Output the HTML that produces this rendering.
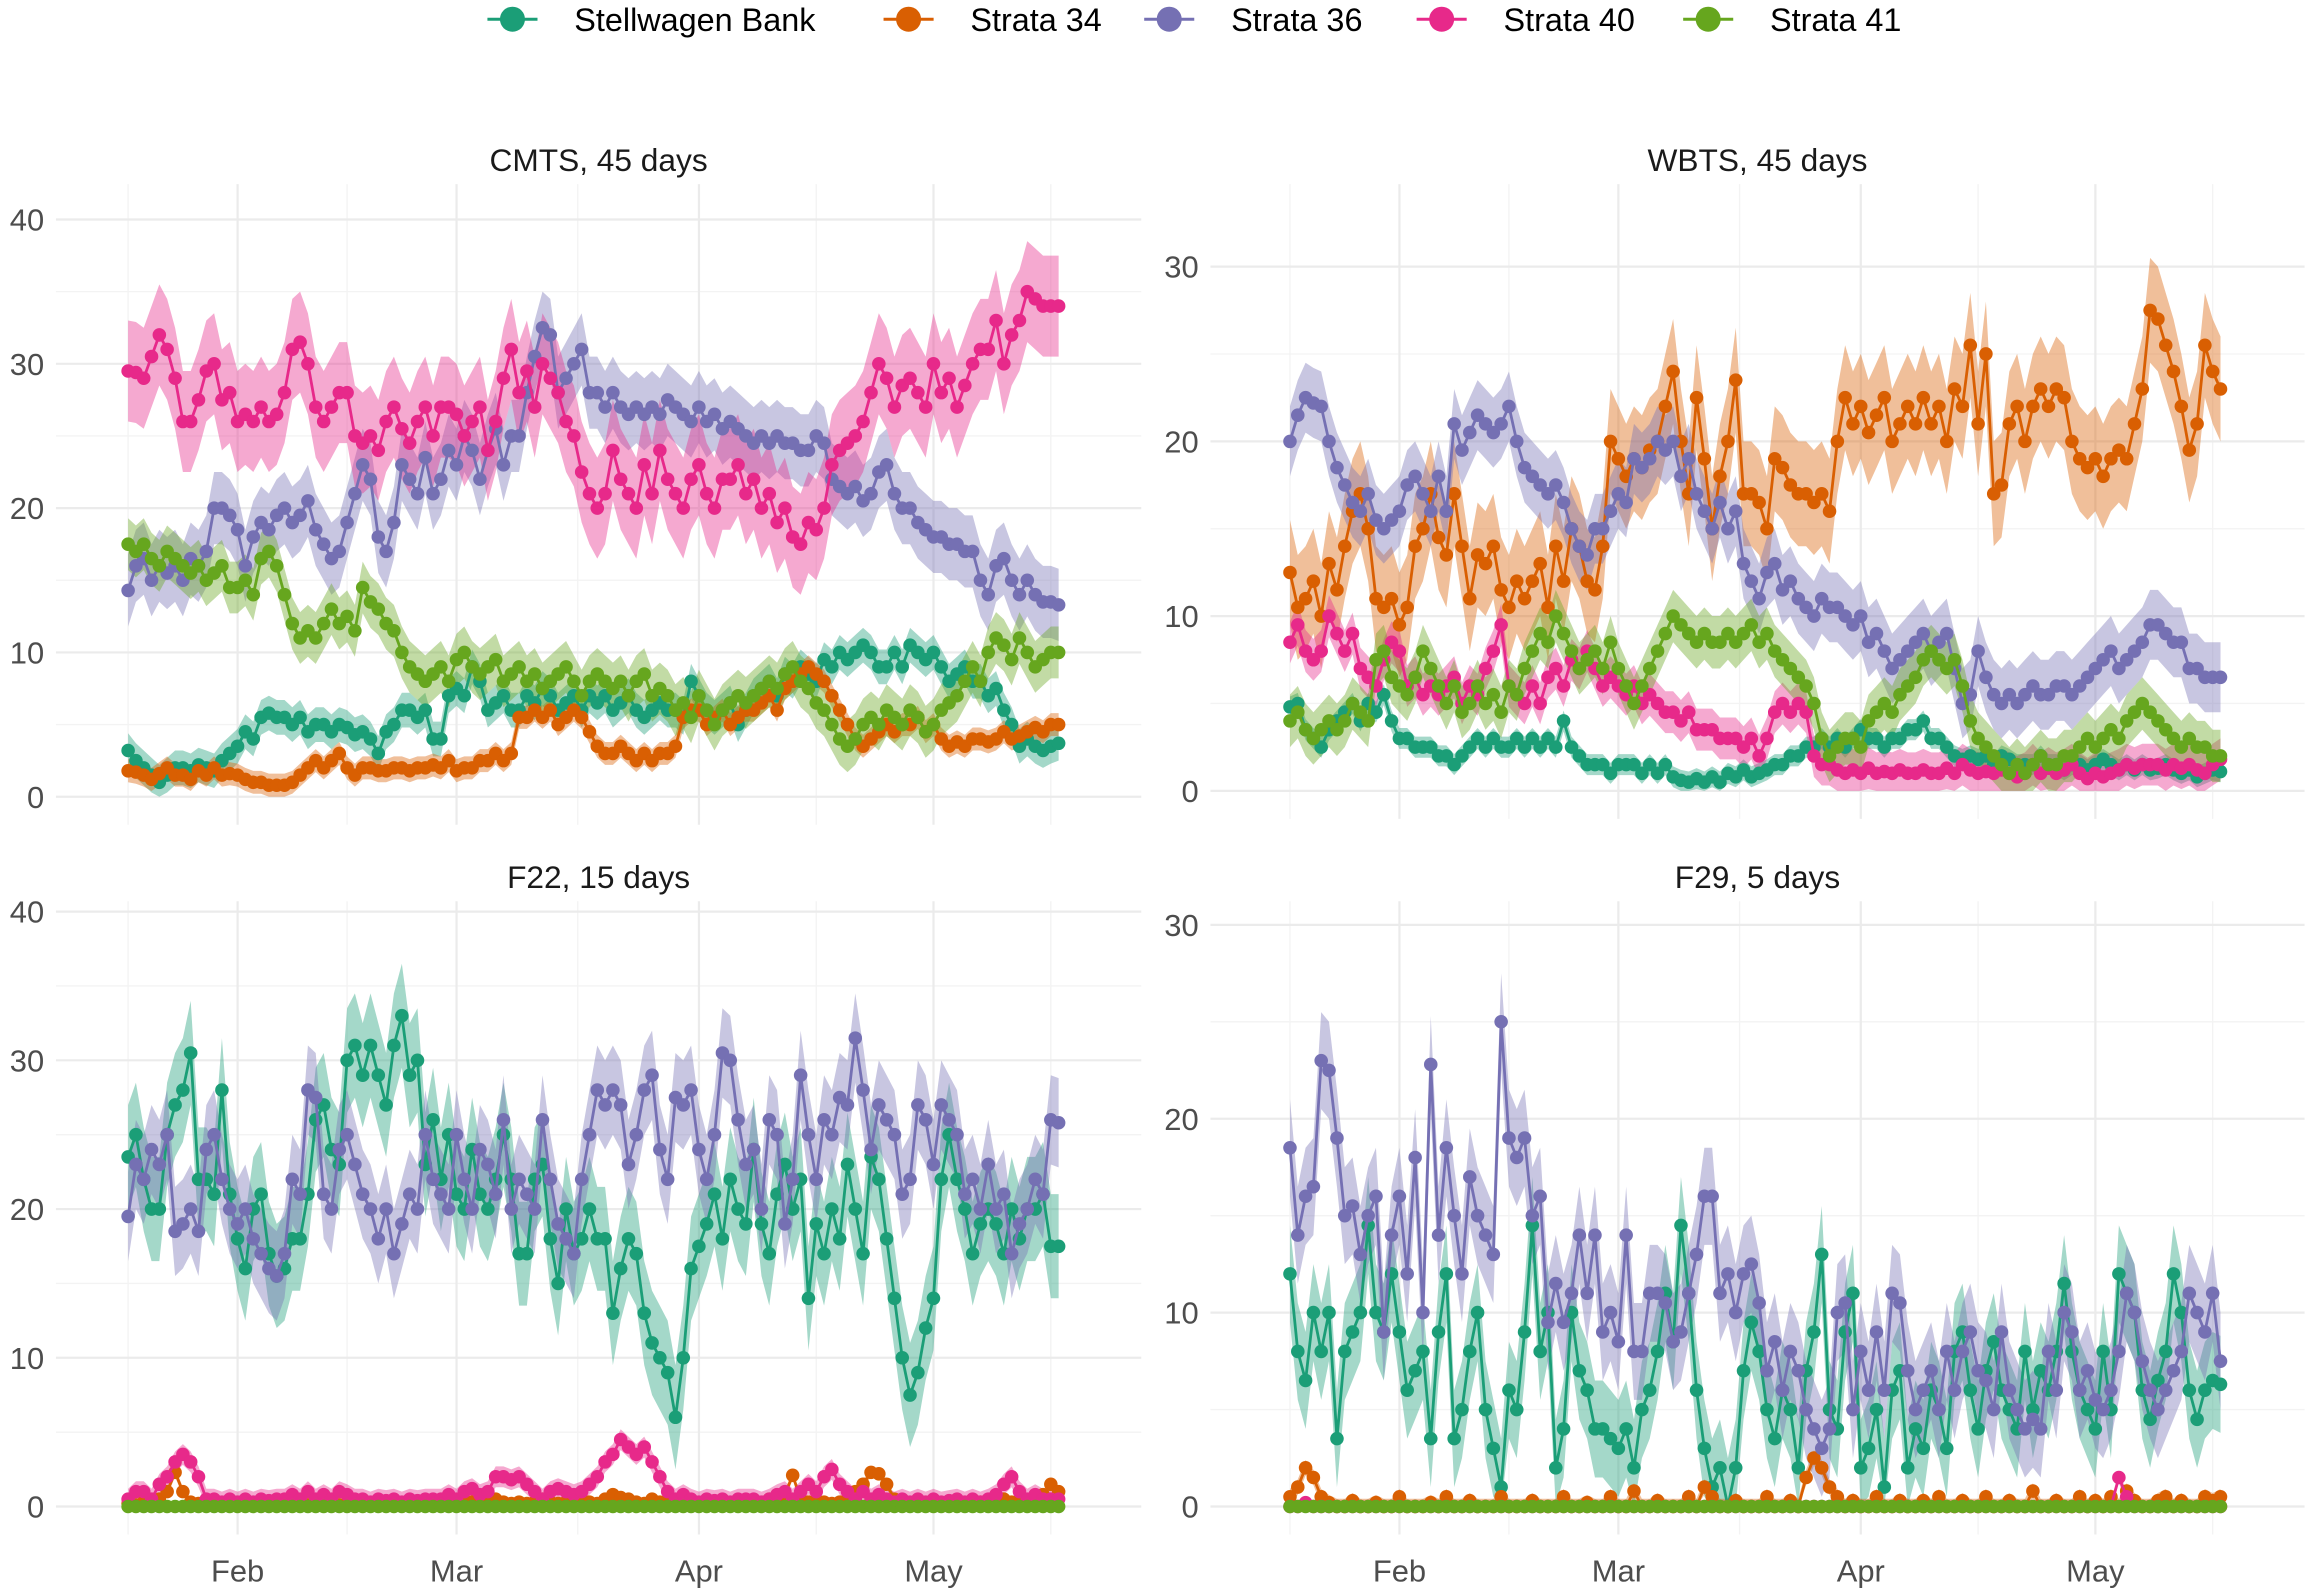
<!DOCTYPE html>
<html><head><meta charset="utf-8"><style>
html,body{margin:0;padding:0;background:#fff;}
svg{display:block;font-family:"Liberation Sans",Arial,sans-serif;}
</style></head><body>
<svg id="chart" width="2309" height="1592" viewBox="0 0 1568 1081" xmlns="http://www.w3.org/2000/svg">
<g id="legend"></g>
<g id="panels"></g>
</svg>
<script>
const seriesNames = ["Stellwagen Bank","Strata 34","Strata 36","Strata 40","Strata 41"];
const seriesColors = ["#1B9E77","#D95F02","#7570B3","#E7298A","#66A61E"];
const monthLabels = ["Feb","Mar","Apr","May"];
const monthDays = [14,42,73,103];

// CMTS
const cmtsTeal=[3.2,2.5,2,1.5,1,1.5,2,2,1.8,2.2, 2,1.8,2.5,3,3.5,4.5,4,5.5,5.8,5.5, 5.5,5,5.5,4.5,5,5,4.5,5,4.8,4.3, 4.5,4,3,4.5,5,6,6,5.5,6,4, 4,7,7.5,7,9,8,6,6.5,7,6, 6,7,6.5,7.5,7,6,6.5,7,6,7, 6.5,7,6,6.5,7,6,5.5,6,6.5,6, 6,5.5,8,7,6,5.5,6,6.5,5,6, 7,7.5,8,7,8.5,8,9,8.5,8,9.5, 9,10,9.5,10,10.5,10,9,9,10,9, 10.5,10,9.5,10,9,8,8.5,9,8,8, 7,7.5,6,5,3.5,4,3.5,3.2,3.5,3.7];
const cmtsS34=[1.8,1.7,1.5,1.2,1.6,2,1.5,1.5,1.2,1.8, 1.5,2,1.5,1.6,1.5,1.2,1,1,0.8,0.8, 0.8,1,1.5,2,2.5,2,2.5,3,2,1.5, 2,2,1.8,1.8,2,2,1.8,2,2,2.2, 2,2.5,1.8,2,2,2.5,2.5,3,2.5,3, 5.5,5.5,6,5.5,6,5,5.5,6,5.5,4.5, 3.5,3,3,3.5,3,2.5,3,2.5,3,3, 3.5,5.5,6,6,5,5.5,6,5,5.5,6, 6,6.5,7,6,7.5,8,8.5,9,8.5,8, 7,6,5,4,3.5,4,4.5,5,4.5,5, 5,5.5,4.5,5,4,3.5,3.8,3.5,4,4, 3.8,4,4.5,4,4.2,4.5,4.8,4.5,5,5];
const cmtsS36=[14.3,16,16.5,15,16,15.5,16,15,16.5,16, 17,20,20,19.5,18.5,16,18,19,18.5,19.5, 20,19,19.5,20.5,18.5,17.5,16.5,17,19,21, 23,22,18,17,19,23,22,21,23.5,21, 22,24,23,25,24,22,24,25.5,23,25, 25,28,30.5,32.5,32,28,29,30,31,28, 28,27,28,27,26.5,27,26.5,27,26.5,27.5, 27,26.5,26,27,26,26.5,25.5,26,25.5,25, 24.5,25,24.5,25,24.5,24.5,24,24,25,24.5, 22,21.5,21,21.5,20.5,21,22.5,23,21,20, 20,19,18.5,18,18,17.5,17.5,17,17,15, 14,16,16.5,15,14,15,14,13.5,13.5,13.3];
const cmtsS40=[29.5,29.4,29,30.5,32,31,29,26,26,27.5, 29.5,30,27.5,28,26,26.5,26,27,26,26.5, 28,31,31.5,30,27,26,27,28,28,25, 24.5,25,24,26,27,25.5,24.5,26,27,25, 27,27,26.5,25,26,27,24,26,29,31, 28,29.5,27,30,29,28,26,25,22.5,21, 20,21,24,22,21,20,23,21,24,22, 21,20,22,23,21,20,22,22,23,21, 22,20,21,19,20,18,17.5,19,18.5,20, 23,24,24.5,25,26,28,30,29,27,28.5, 29,28,27,30,28,29,27,28.5,30,31, 31,33,30,32,33,35,34.5,34,34,34];
const cmtsS41=[17.5,17,17.5,16.5,16,17,16.5,16,15.5,16, 15,15.5,16,14.5,14.5,15,14,16.5,17,16, 14,12,11,11.5,11,12,13,12,12.5,11.5, 14.5,13.5,13,12,11.5,10,9,8.5,8,8.5, 9,8,9.5,10,9,8.5,9,9.5,8,8.5, 9,8,8.5,7.5,8,8.5,9,8,7,8, 8.5,8,7.5,8,7,8,8.5,7,7.5,7, 6,6.5,5.5,7,6,5,6,6.5,7,6.5, 7,7.5,8,7.5,8.5,9,8,7.5,6.5,6, 5,4,3.5,4,5,5.5,5,6,5.5,5, 6,5.5,4.5,5,6,6.5,7,8,9,8, 10,11,10.5,9.5,11,10,9,9.5,10,10];

// WBTS
const wbtsTeal=[4.8,5,3.5,3,2.5,3.5,4,4.5,5,4, 5,4.5,5.5,4,3,3,2.5,2.5,2.5,2, 2,1.5,2,2.5,3,2.5,3,2.5,2.5,3, 2.5,3,2.5,3,2.5,4,2.5,2,1.5,1.5, 1.5,1,1.5,1.5,1.5,1,1.5,1,1.5,0.8, 0.6,0.5,0.7,0.5,0.8,0.5,1,0.8,1.2,0.8, 1,1.2,1.5,1.5,2,2,2.5,2.5,3,2.5, 3,2.5,3,3.5,3,3,2.5,3,3,3.5, 3.5,4,3,3,2.5,2,1.8,2,1.8,2, 1.5,2,1.8,1.5,1.5,1.5,2,1.5,1.5,1.2, 1.5,1.5,1.2,1.5,1.8,1.5,1.2,1.5,1.2,1.5, 1.2,1.3,1.5,1.2,1,1.2,0.8,1,1.2,1.1];
const wbtsS34=[12.5,10.5,11,12,10,13,11.5,14,16,17, 15,11,10.5,11,9.5,10.5,14,15,17,14.5, 13.5,17,14,11,13.5,13,14,11.5,10.5,12, 11,12,13,10.5,14,12,15,14,12,11.5, 14,20,19,18,19,18.5,19.5,20,22,24, 20,17,22.5,19,15,18,20,23.5,17,17, 16.5,15,19,18.5,17.5,17,17,16.5,17,16, 20,22.5,21,22,20.5,21.5,22.5,20,21,22, 21,22.5,21,22,20,23,22,25.5,21,25, 17,17.5,21,22,20,22,23,22,23,22.5, 20,19,18.5,19,18,19,19.5,19,21,23, 27.5,27,25.5,24,22,19.5,21,25.5,24,23];
const wbtsS36=[20,21.5,22.5,22.2,22,20,18.5,17.5,16.5,16, 17,15.5,15,15.5,16,17.5,18,17,16,18, 16,21,19.5,20.5,21.5,21,20.5,21,22,20, 18.5,18,17.5,17,17.5,16.5,15,14,13.5,15, 15,16,17,16.5,19,18.5,19,20,19.5,20, 18,19,17,16,15,16.5,15,16,13,12, 11,12.5,13,11.5,12,11,10.5,10,11,10.5, 10.5,10,9.5,10,8.5,9,8,7,7.5,8, 8.5,9,8,8.5,9,7,5,5.5,8,6.5, 5.5,5,5.5,5,5.5,6,5.5,5.5,6,6, 5.5,6,6.5,7,7.5,8,7,7.5,8,8.5, 9.5,9.5,9,8.5,8.5,7,7,6.5,6.5,6.5];
const wbtsS40=[8.5,9.5,8,7.5,8,10,9,8,9,7, 6.5,6,7.5,8.5,8,6,6.5,5.5,6,5.5, 6,6.5,5,6,5.5,7,8,9.5,6,5.5, 5,6,5,6.5,7,6,7.5,7,8,7, 6,6.5,6,5.5,6,5,5.5,5,4.5,4.5, 4,4.5,3.5,3.5,3.5,3,3,3,2.5,3, 2,3,4.5,5,4.5,5,4.5,2,1.5,1.5, 1.2,1,1.2,1,1.3,1,1.1,1,1.2,1, 1,1.2,1,1,1.3,1,1.5,1.2,1,1.1, 1,1.2,1,0.8,1,1.5,1,1.3,1,1.2, 1.5,1,0.7,1,0.8,1,1.2,1.5,1.3,1.5, 1.5,1.5,1.2,1.5,1.3,1.5,1.2,1,1.5,1.8];
const wbtsS41=[4,4.5,3.5,3,3.5,4,3.5,4,5,4.5, 4,7.5,8,6.5,6,5.5,6.5,8,7,6, 5,6,4.5,5,6,5,5.5,4.5,6,5.5, 7,8,9,8.5,10,9,8,7,7.5,8, 7,8.5,7,6,5,6,7,8,9,10, 9.5,9,8.5,9,8.5,8.5,9,8.5,9,9.5, 8.5,9,8,7.5,7,6.5,6,5,3,2, 2.5,3,3,2.5,4,4.5,5,4.5,5.5,6, 6.5,7.5,8,7.5,7,7.5,6,4,3,2.5, 2,1.5,1,1.5,1,1.5,2,1.5,1.5,2, 2,2.5,3,2.5,3,3.5,3,4,4.5,5, 4.5,4,3.5,3,2.5,3,2.5,2.5,2,2];

// F22
const f22Teal=[23.5,25,22,20,20,25,27,28,30.5,22, 22,21,28,21,18,16,20,21,17,15.5, 16,18,18,21,26,27,24,23,30,31, 29,31,29,27,31,33,29,30,23,26, 22,25,21,20,24,21,20,22,25,22, 17,17,22,23,18,15,20,17,18,20, 18,18,13,16,18,17,13,11,10,9, 6,10,16,17.5,19,21,18,22,20,19, 24,19,17,21,23,20,22,14,19,17, 20,18,23,20,17,23.5,22,18,14,10, 7.5,9,12,14,22,25,22,20,17,19, 20,19,17,20,18,20,20,21,17.5,17.5];
const f22S34=[0.2,0.1,0.3,0.2,0.5,1,2.3,1,0.3,0.2, 0.1,0.2,0.1,0.2,0.1,0.1,0.2,0.1,0.2,0.1, 0.2,0.3,0.2,0.1,0.2,0.3,0.2,0.1,0.2,0.3, 0.2,0.1,0.2,0.1,0.2,0.1,0.2,0.1,0.2,0.1, 0.2,0.3,0.2,0.4,0.3,0.2,0.3,0.5,0.3,0.2, 0.3,0.2,0.3,0.5,0.3,0.2,0.3,0.2,0.5,0.3, 0.2,0.5,0.8,0.6,0.5,0.3,0.2,0.5,0.3,0.2, 0.3,0.2,0.3,0.2,0.1,0.2,0.3,0.2,0.1,0.2, 0.3,0.2,0.5,0.3,0.8,2.1,0.5,0.3,0.2,0.3, 0.2,0.3,0.5,1,1.5,2.3,2.2,1.5,0.5,0.3, 0.2,0.3,0.2,0.1,0.2,0.3,0.2,0.1,0.2,0.3, 0.2,0.3,0.5,0.3,0.2,0.3,0.5,0.8,1.5,1];
const f22S36=[19.5,23,22,24,23,25,18.5,19,20,18.5, 24,25,22,20,19,20,18,17,16,15.5, 17,22,21,28,27.5,21,20,24,25,23, 21,20,18,20,17,19,21,20,25,22, 21,20,25,22,20,24,23,21,26,20, 22,21,20,26,22,19,18,17,22,25, 28,27,28,27,23,25,28,29,24,22, 27.5,27,28,24,22,25,30.5,30,26,23, 24,20,26,25,19,22,29,25,22,26, 25,27.5,27,31.5,28,24,27,26,25,21, 22,27,26,23,27,26,25,21,22,20, 23,20,21,17,19,20,22,21,26,25.8];
const f22S40=[0.5,1,1,0.5,1.5,2,3,3.5,3,2, 0.5,0.5,0.3,0.5,0.3,0.5,0.3,0.5,0.4,0.5, 0.5,0.8,0.5,1,0.5,0.8,0.5,1,0.8,0.5, 0.5,0.3,0.5,0.4,0.5,0.3,0.5,0.4,0.5,0.5, 0.5,0.8,0.5,1,1.2,0.8,1,2,2,1.8, 2,1.5,1,0.5,1,1.2,1,0.8,1,1.5, 2,3,3.5,4.5,4,3.5,4,3,2,1, 0.5,0.8,0.5,0.3,0.5,0.4,0.5,0.3,0.5,0.5, 0.5,0.3,0.5,0.8,1,0.5,1,1.5,1,2, 2.5,1.5,1,0.5,1,0.5,0.8,0.5,0.3,0.5, 0.3,0.5,0.3,0.5,0.3,0.4,0.5,0.3,0.5,0.3, 0.5,0.8,1.5,2,1,0.5,0.8,0.5,0.5,0.5];
const f22S41=[0,0,0,0,0,0,0,0,0,0, 0,0,0,0,0,0,0,0,0,0, 0,0,0,0,0,0,0,0,0,0, 0,0,0,0,0,0,0,0,0,0, 0,0,0,0,0,0,0,0,0,0, 0,0,0,0,0,0,0,0,0,0, 0,0,0,0,0,0,0,0,0,0, 0,0,0,0,0,0,0,0,0,0, 0,0,0,0,0,0,0,0,0,0, 0,0,0,0,0,0,0,0,0,0, 0,0,0,0,0,0,0,0,0,0, 0,0,0,0,0,0,0,0,0,0];

// F29
const f29Teal=[12,8,6.5,10,8,10,3.5,8,9,10, 14.5,10,9,12,9,6,7,8,3.5,9, 12,3.5,5,8,10,5,3,1,6,5, 9,14.5,8,10,2,4,10,7,6,4, 4,3.5,3,4,2,5,6,8,11,8.5, 14.5,11,6,3,1,2,0,2,7,9.5, 8,5,3.5,6,5,2,7,9,13,5, 4,9,11,2,3,5,1,6,7,2, 4,3,6,5,3,8,9,6,4,7, 8.5,6,5,4,8,5,7,6,8,11.5, 8,6,5,4,8,5,12,11,10,6, 4.5,6.5,8,12,10,6,4.5,6,6.5,6.3];
const f29S34=[0.5,1,2,1.5,0.5,0.2,0,0,0.3,0, 0,0.2,0,0,0.5,0,0,0,0.2,0, 0.5,0,0,0.3,0,0,0,0.5,0,0, 0,0.3,0,0,0,0.5,0,0,0.2,0, 0,0.5,0,0,0.8,0,0,0.3,0,0, 0,0.5,0,1,0.5,0,0,0.3,0,0, 0,0.5,0,0,0.3,0,1.5,2.5,2,1, 0.5,0,0.3,0,0,0.5,0,0,0.3,0, 0,0.3,0,0.5,0,0,0.3,0,0,0.5, 0,0,0.3,0,0,0.8,0,0,0.3,0, 0,0.5,0,0.3,0,0.5,0,0.8,0.3,0, 0,0.3,0.5,0,0.3,0,0,0.5,0.3,0.5];
const f29S36=[18.5,14,16,16.5,23,22.5,19,15,15.5,13, 15,16,9,14,16,12,18,10,22.8,14, 18.5,15,12,17,15,14,13,25,19,18, 19,15,16,9.5,11.5,9.5,11,14,11,14, 9,10,8.5,14,8,8,11,11,10.5,8.5, 9,11,13,16,16,11,12,10,12,12.5, 10.5,7,8.5,6,8,7,5,4,3,4, 10,10.5,5,8,6,9,6,11,10.5,7, 5,6,7,5,8,6,8,9,7,6.5, 5,9,6,5,4,4.5,4,8,6,10, 9,6,7,5.5,5,6,8,11,10,7.5, 6,5,6,7,8,11,10,9,11,7.5];
const f29S40=[0,0,0.2,0,0,0,0,0,0,0, 0,0,0,0,0,0,0,0,0,0, 0,0,0,0,0,0,0,0,0,0, 0,0,0,0,0,0,0,0,0,0, 0,0,0,0,0,0,0,0,0,0, 0,0,0,0,0,0,0,0,0,0, 0,0,0,0,0,0,0,0,0,0, 0,0,0,0,0,0,0,0,0,0, 0,0,0,0,0,0,0,0,0,0, 0,0,0,0,0,0,0,0,0,0, 0,0,0,0,0,0,1.5,0.5,0,0, 0,0,0,0,0,0,0,0,0,0];
const f29S41=[0,0,0,0,0,0,0,0,0,0, 0,0,0,0,0,0,0,0,0,0, 0,0,0,0,0,0,0,0,0,0, 0,0,0,0,0,0,0,0,0,0, 0,0,0,0,0,0,0,0,0,0, 0,0,0,0,0,0,0,0,0,0, 0,0,0,0,0,0,0,0,0,0, 0,0,0,0,0,0,0,0,0,0, 0,0,0,0,0,0,0,0,0,0, 0,0,0,0,0,0,0,0,0,0, 0,0,0,0,0,0,0,0,0,0, 0,0,0,0,0,0,0,0,0,0];

const cmtsHalf=[1.2,0.8,2.5,3.5,1.8];
const wbtsHalf=[0.6,3,2,1.2,1.5];
const f22Half=[3.5,0.3,3,0.7,0.1];
const f29Half=[2.5,0.4,2.5,0.3,0.1];

const panelTitles=["CMTS, 45 days","WBTS, 45 days","F22, 15 days","F29, 5 days"];
const panelTicks=[[0,10,20,30,40],[0,10,20,30],[0,10,20,30,40],[0,10,20,30]];
const panelData=[[cmtsTeal,cmtsS34,cmtsS36,cmtsS40,cmtsS41],[wbtsTeal,wbtsS34,wbtsS36,wbtsS40,wbtsS41],[f22Teal,f22S34,f22S36,f22S40,f22S41],[f29Teal,f29S34,f29S36,f29S40,f29S41]];
const panelHalf=[cmtsHalf,wbtsHalf,f22Half,f29Half];

// layout (not data)
const layout=[
 {x0:87,left:38,right:775,top:125,bottom:560,yZero:541,yTop:149,yMax:40,titleY:116,xlab:false},
 {x0:876,left:822,right:1565,top:125,bottom:556,yZero:537,yTop:181,yMax:30,titleY:116,xlab:false},
 {x0:87,left:38,right:775,top:612,bottom:1042,yZero:1023,yTop:619,yMax:40,titleY:603,xlab:true},
 {x0:876,left:822,right:1565,top:612,bottom:1042,yZero:1023,yTop:628,yMax:30,titleY:603,xlab:true}
];
const DAYPX=5.31;
const NS="http://www.w3.org/2000/svg";
function mk(tag,attrs,parent){const e=document.createElementNS(NS,tag);for(const k in attrs)e.setAttribute(k,attrs[k]);parent.appendChild(e);return e;}

const panelsG=document.getElementById('panels');
panelData.forEach((series,pi)=>{
  const L=layout[pi];
  const xs=d=>L.x0+d*DAYPX;
  const ys=v=>L.yZero-(v/L.yMax)*(L.yZero-L.yTop);
  const g=mk('g',{},panelsG);
  
  
  const ticks=panelTicks[pi];
  const step=ticks[1]-ticks[0];
  for(let i=0;i<ticks.length;i++){
    const v=ticks[i]+step/2;
    if(ys(v)<L.top) continue;
    const ln=mk('line',{x1:L.left,x2:L.right,y1:ys(v),y2:ys(v),stroke:'#F3F3F3','stroke-width':0.9},g);
    
    
  }
  const minorDays=[monthDays[0]-14,(monthDays[0]+monthDays[1])/2,(monthDays[1]+monthDays[2])/2,(monthDays[2]+monthDays[3])/2,monthDays[3]+15];
  minorDays.forEach(d=>{
    const ln=mk('line',{x1:xs(d),x2:xs(d),y1:L.top,y2:L.bottom,stroke:'#F3F3F3','stroke-width':0.9},g);
    
    
  });
  ticks.forEach(v=>{
    const ln=mk('line',{x1:L.left,x2:L.right,y1:ys(v),y2:ys(v),stroke:'#EBEBEB','stroke-width':1.5},g);
    
    
    const t=mk('text',{x:L.left-8,y:ys(v)+7.5,'text-anchor':'end','font-size':21,fill:'#4D4D4D'},g);
    t.textContent=v;
    
    
  });
  monthDays.forEach((d,mi)=>{
    const ln=mk('line',{x1:xs(d),x2:xs(d),y1:L.top,y2:L.bottom,stroke:'#EBEBEB','stroke-width':1.5},g);
    
    
    if(L.xlab){
      const t=mk('text',{x:xs(d),y:1074,'text-anchor':'middle','font-size':21,fill:'#4D4D4D'},g);
      t.textContent=monthLabels[mi];
      
      
    }
  });
  const tt=mk('text',{x:(L.left+L.right)/2,y:L.titleY,'text-anchor':'middle','font-size':21.5,fill:'#1A1A1A'},g);
  tt.textContent=panelTitles[pi];
  
  
  series.forEach((vals,si)=>{
    const h=panelHalf[pi][si];
    let up=[],lo=[];
    vals.forEach((v,d)=>{up.push(xs(d).toFixed(1)+','+ys(v+h).toFixed(1));lo.unshift(xs(d).toFixed(1)+','+ys(Math.max(0,v-h)).toFixed(1));});
    const p=mk('polygon',{points:up.concat(lo).join(' '),fill:seriesColors[si],'fill-opacity':0.4,stroke:'none'},g);
    
    
  });
  series.forEach((vals,si)=>{
    const sg=mk('g',{},g);
    
    
    const pts=vals.map((v,d)=>xs(d).toFixed(1)+','+ys(v).toFixed(1)).join(' ');
    const pl=mk('polyline',{points:pts,fill:'none',stroke:seriesColors[si],'stroke-width':1.9},sg);
    
    
    vals.forEach((v,d)=>{
      const c=mk('circle',{cx:xs(d).toFixed(1),cy:ys(v).toFixed(1),r:4.6,fill:seriesColors[si]},sg);
      
      
    });
  });
});

const legG=document.getElementById('legend');
const legKeyX=[348,617,794,979,1160];
legKeyX.forEach((kx,i)=>{
  const eg=mk('g',{},legG);
  
  
  const l=mk('line',{x1:kx-17,x2:kx+17,y1:13,y2:13,stroke:seriesColors[i],'stroke-width':2},eg);
  
  
  const c=mk('circle',{cx:kx,cy:13,r:8.5,fill:seriesColors[i]},eg);
  
  
  const t=mk('text',{x:kx+42,y:21,'font-size':22,fill:'#000'},eg);
  t.textContent=seriesNames[i];
  
  
});
</script>
</body></html>
